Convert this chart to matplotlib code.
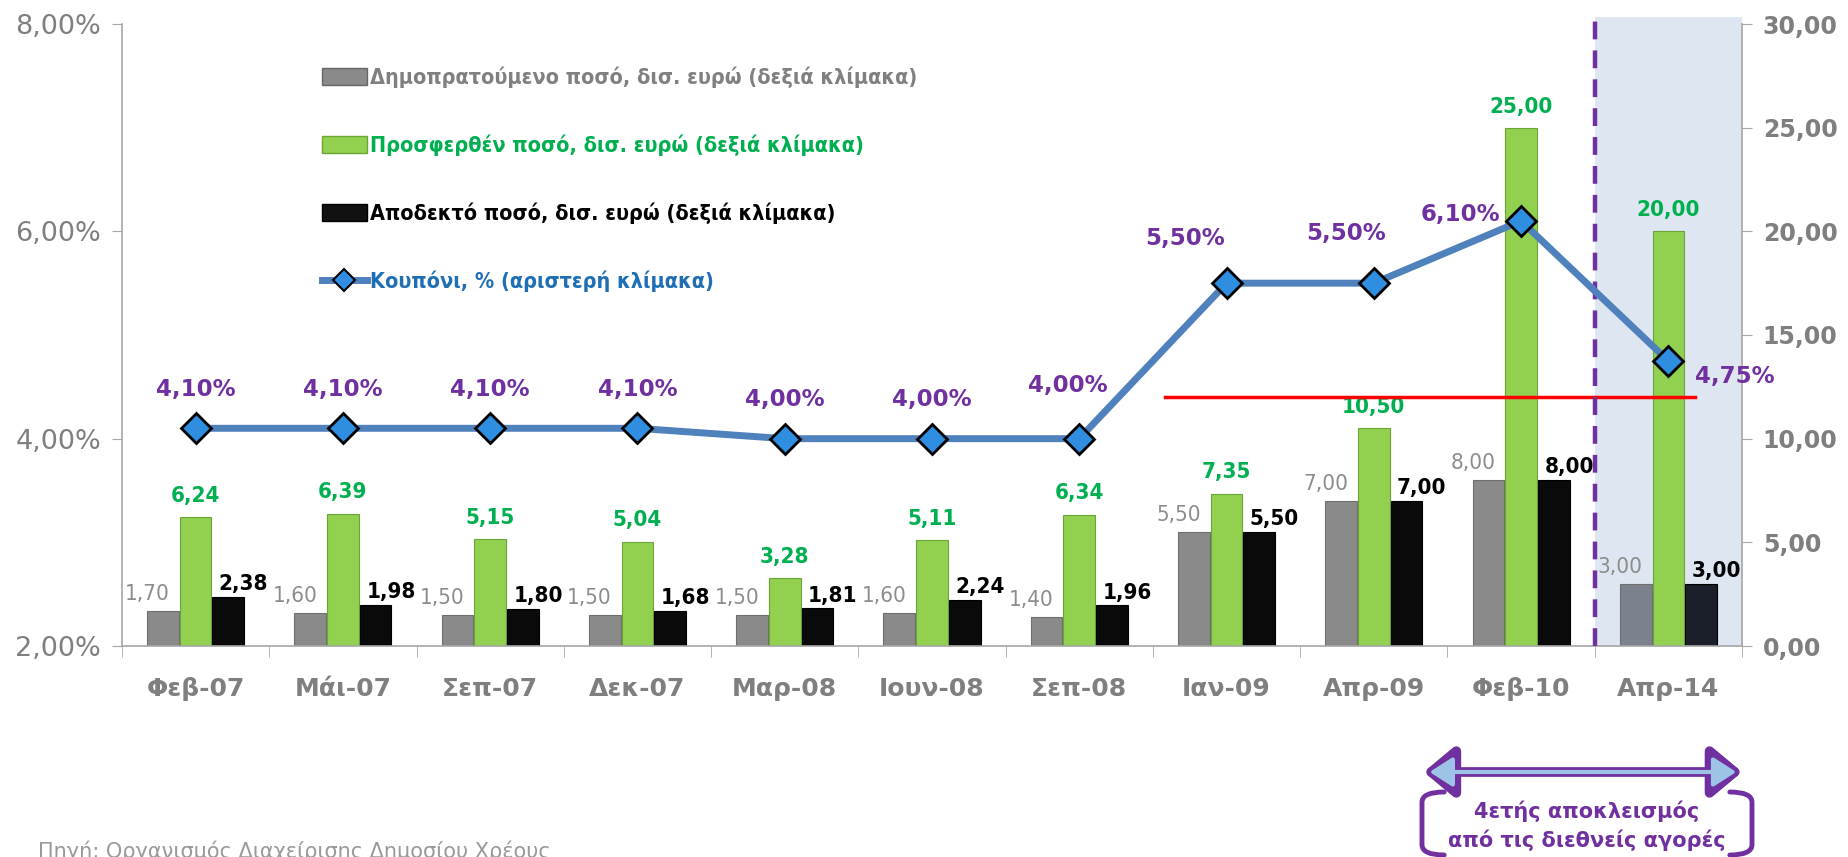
import matplotlib
matplotlib.use("Agg")
import matplotlib.pyplot as plt
import matplotlib.patches as mpatches
from matplotlib.path import Path
from matplotlib.lines import Line2D
import matplotlib.transforms as mtransforms

plt.rcParams['font.family'] = ['DejaVu Sans']

categories = ["Φεβ-07", "Μάι-07", "Σεπ-07", "Δεκ-07", "Μαρ-08", "Ιουν-08",
              "Σεπ-08", "Ιαν-09", "Απρ-09", "Φεβ-10", "Απρ-14"]
auctioned = [1.70, 1.60, 1.50, 1.50, 1.50, 1.60, 1.40, 5.50, 7.00, 8.00, 3.00]
offered = [6.24, 6.39, 5.15, 5.04, 3.28, 5.11, 6.34, 7.35, 10.50, 25.00, 20.00]
accepted = [2.38, 1.98, 1.80, 1.68, 1.81, 2.24, 1.96, 5.50, 7.00, 8.00, 3.00]
coupon = [4.10, 4.10, 4.10, 4.10, 4.00, 4.00, 4.00, 5.50, 5.50, 6.10, 4.75]
red_level = 4.40
left_ticks = [2, 4, 6, 8]
right_ticks = [0, 5, 10, 15, 20, 25, 30]

legend_labels = ["Δημοπρατούμενο ποσό, δισ. ευρώ (δεξιά κλίμακα)",
                 "Προσφερθέν ποσό, δισ. ευρώ (δεξιά κλίμακα)",
                 "Αποδεκτό ποσό, δισ. ευρώ (δεξιά κλίμακα)",
                 "Κουπόνι, % (αριστερή κλίμακα)"]
source_text = "Πηγή: Οργανισμός Διαχείρισης Δημοσίου Χρέους"
box_text = "4ετής αποκλεισμός\nαπό τις διεθνείς αγορές"

def fmt(v):
    return f"{v:.2f}".replace(".", ",")

W, H = 1848, 857
fig = plt.figure(figsize=(W / 100, H / 100), dpi=100)
L, R, B, T = 122, 1742, 646, 24
ax2 = fig.add_axes([L / W, 1 - B / H, (R - L) / W, (B - T) / H])  # bars (right scale)
ax = fig.add_axes(ax2.get_position(), sharex=ax2)                   # coupon (left scale)
ax.patch.set_visible(False)
ax.set_zorder(ax2.get_zorder() + 1)

grey = "#7f7f7f"
purple = "#7030a0"
green_txt = "#00b050"
n = len(categories)
x = list(range(n))
bw = 0.215
off = 0.222

# shaded region
ax2.axvspan(9.5, 10.5, ymin=0, ymax=1.012, color="#dee6f1", zorder=0, lw=0, clip_on=False)

gcols = ["#8a8a8a"] * (n - 1) + ["#7c828d"]
kcols = ["#0a0a0a"] * (n - 1) + ["#1a1f2a"]
ax2.bar([i - off for i in x], auctioned, bw, color=gcols, edgecolor="#6e6e6e", lw=0.8, zorder=2)
ax2.bar(x, offered, bw, color="#92d050", edgecolor="#6aa536", lw=0.8, zorder=2)
ax2.bar([i + off for i in x], accepted, bw, color=kcols, edgecolor="#000000", lw=0.8, zorder=2)

lblkw = dict(fontsize=16, fontstretch="condensed")
for i in x:
    ax2.annotate(fmt(auctioned[i]), (i - off, auctioned[i]), xytext=(-11, 5), textcoords="offset points",
                 ha="center", va="bottom", color="#8c8c8c", **lblkw)
    ax2.annotate(fmt(offered[i]), (i, offered[i]), xytext=(0, 8), textcoords="offset points",
                 ha="center", va="bottom", color=green_txt, fontweight="bold", **lblkw)
    ax2.annotate(fmt(accepted[i]), (i + off, accepted[i]), xytext=(11, 2), textcoords="offset points",
                 ha="center", va="bottom", color="black", fontweight="bold", **lblkw)

ax2.set_ylim(0, 30)
ax2.set_xlim(-0.5, 10.5)
ax2.yaxis.tick_right()
ax2.set_yticks(right_ticks)
ax2.set_yticklabels([fmt(v) for v in right_ticks], color=grey, fontsize=17, fontweight="bold")
ax2.tick_params(axis="y", direction="out", length=7, color="#a6a6a6", pad=8)

ax2.set_xticks(x)
ax2.set_xticklabels(categories, color=grey, fontsize=18, fontweight="bold")
ax2.set_xticks([i - 0.5 for i in range(n + 1)], minor=True)
ax2.tick_params(axis="x", which="major", length=0, pad=22)
ax2.tick_params(axis="x", which="minor", length=8, color="#a6a6a6", direction="out")
for s in ["top", "left"]:
    ax2.spines[s].set_visible(False)
for s in ["right", "bottom"]:
    ax2.spines[s].set_color("#a6a6a6")
    ax2.spines[s].set_linewidth(1.2)

# line axis
ax.set_ylim(2, 8)
ax.plot([6.58, 10.18], [red_level, red_level], color="#ff0000", lw=2.5, zorder=3)
ax.axvline(9.5, ymin=0, ymax=1.015, color=purple, lw=3.2, dashes=(4, 2.5), zorder=4, clip_on=False)
ax.plot(x, coupon, color="#4f81bd", lw=5, marker="D", ms=15, mfc="#2f8ee0",
        mec="black", mew=2, zorder=5)
pct_offsets = [(0, 28)] * 6 + [(-8, 38), (-30, 32), (-20, 36), (-44, 5), (48, -11)]
for i in x:
    ax.annotate(fmt(coupon[i]) + "%", (i, coupon[i]), xytext=pct_offsets[i], textcoords="offset points",
                ha="center", va="center", color=purple, fontsize=16.5, fontweight="bold")
ax.set_yticks(left_ticks)
ax.set_yticklabels([fmt(v) + "%" for v in left_ticks], color=grey, fontsize=19.5)
ax.tick_params(axis="y", direction="out", length=7, color="#a6a6a6", pad=8)
ax.tick_params(axis="x", which="both", length=0, labelbottom=False)
for s in ["top", "right", "bottom"]:
    ax.spines[s].set_visible(False)
ax.spines["left"].set_color("#a6a6a6")
ax.spines["left"].set_linewidth(1.2)

# legend
handles = [mpatches.Patch(facecolor="#8a8a8a", edgecolor="#666666"),
           mpatches.Patch(facecolor="#92d050", edgecolor="#6aa536"),
           mpatches.Patch(facecolor="#111111", edgecolor="#000000"),
           Line2D([], [], color="#4f81bd", lw=5, marker="D", ms=11, mfc="#2f8ee0", mec="black", mew=1.5)]
leg = ax.legend(handles, legend_labels, loc="upper left", bbox_to_anchor=(0.118, 0.945),
                frameon=False, prop=dict(size=15.5, weight="bold", stretch="condensed"),
                labelspacing=2.15, handlelength=2.1, handleheight=0.85,
                handletextpad=0.15, borderaxespad=0)
for t, c in zip(leg.get_texts(), ["#808080", green_txt, "black", "#1f6fb5"]):
    t.set_color(c)

# double-headed arrow below the axis
tr = mtransforms.blended_transform_factory(ax2.transData, fig.transFigure)
ay = 1 - 772 / H
arr = mpatches.FancyArrowPatch((8.32, ay), (10.52, ay), transform=tr,
                               arrowstyle="<|-|>,head_length=0.9,head_width=0.75",
                               mutation_scale=20, lw=7, color=purple, clip_on=False)
fig.add_artist(arr)
arr2 = mpatches.FancyArrowPatch((8.36, ay), (10.48, ay), transform=tr,
                                arrowstyle="<|-|>,head_length=0.7,head_width=0.45",
                                mutation_scale=20, lw=3, color="#9dc3e6", clip_on=False)
fig.add_artist(arr2)

# bracket box
def bracket(x0, x1, y0, y1, r):
    verts = [(x0 + r, y1), (x0, y1), (x0, y1 - r), (x0, y0 + r), (x0, y0), (x0 + r, y0)]
    codes = [Path.MOVETO, Path.CURVE3, Path.CURVE3, Path.LINETO, Path.CURVE3, Path.CURVE3]
    vr = [(x1 - r, y1), (x1, y1), (x1, y1 - r), (x1, y0 + r), (x1, y0), (x1 - r, y0)]
    return Path(verts + vr, codes + codes)

bx0, bx1 = 1422 / W, 1752 / W
by0, by1 = 1 - 855 / H, 1 - 792 / H
p = mpatches.PathPatch(bracket(bx0, bx1, by0, by1, 0.012), transform=fig.transFigure,
                       fill=False, edgecolor=purple, lw=3.5, capstyle="round")
fig.add_artist(p)
fig.text((bx0 + bx1) / 2, 1 - 826 / H, box_text, ha="center", va="center", color=purple,
         fontsize=15, fontweight="bold", linespacing=1.45)

fig.text(38 / W, 1 - 841 / H, source_text, ha="left", va="top", color="#999999", fontsize=15)

fig.savefig("out.png", dpi=100)
